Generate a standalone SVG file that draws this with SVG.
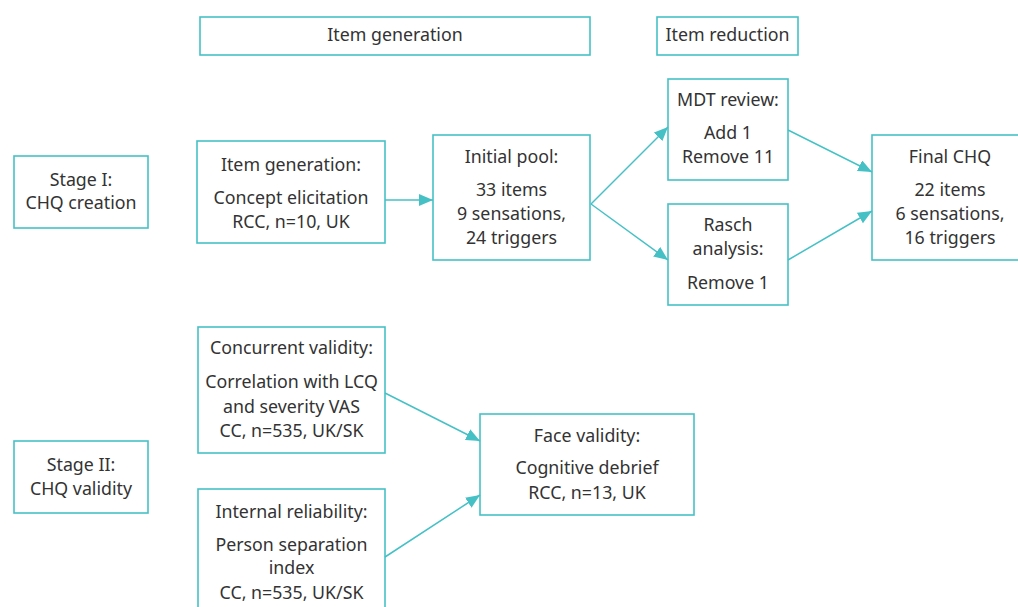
<svg xmlns="http://www.w3.org/2000/svg" width="1018" height="607" viewBox="0 0 1018 607">
<style>
.box{fill:#fff;stroke:#45c1c6;stroke-width:1.6}
text{font-family:"Noto Sans","Open Sans",sans-serif;font-size:17.8px;fill:#333;text-anchor:middle}
.con{stroke:#45c1c6;stroke-width:1.5;fill:none}
</style>
<defs>
<marker id="ah" markerWidth="14" markerHeight="12" refX="14" refY="6" orient="auto" markerUnits="userSpaceOnUse">
<path d="M0,0 L14,6 L0,12 Z" fill="#45c1c6"/>
</marker>
</defs>
<rect width="1018" height="607" fill="#fff"/>
<g id="hdr-gen"><rect class="box" x="200" y="17" width="390" height="38"/><text x="395" y="41">Item generation</text></g>
<g id="hdr-red"><rect class="box" x="657" y="17" width="141" height="38"/><text x="727.5" y="41">Item reduction</text></g>
<g id="stage1"><rect class="box" x="14" y="156" width="134" height="72"/><text x="81" y="186">Stage I:</text><text x="81" y="209">CHQ creation</text></g>
<g id="itemgen"><rect class="box" x="197" y="141" width="188" height="102"/><text x="291" y="171">Item generation:</text><text x="291" y="204">Concept elicitation</text><text x="291" y="228">RCC, n=10, UK</text></g>
<g id="pool"><rect class="box" x="433" y="135" width="157" height="125"/><text x="511.5" y="163">Initial pool:</text><text x="511.5" y="196">33 items</text><text x="511.5" y="220">9 sensations,</text><text x="511.5" y="244">24 triggers</text></g>
<g id="mdt"><rect class="box" x="668" y="79" width="120" height="101"/><text x="728" y="106">MDT review:</text><text x="728" y="139">Add 1</text><text x="728" y="163">Remove 11</text></g>
<g id="rasch"><rect class="box" x="668" y="204" width="120" height="101"/><text x="728" y="231">Rasch</text><text x="728" y="255">analysis:</text><text x="728" y="289">Remove 1</text></g>
<g id="final"><rect class="box" x="872" y="135" width="156" height="125"/><text x="950" y="163">Final CHQ</text><text x="950" y="196">22 items</text><text x="950" y="220">6 sensations,</text><text x="950" y="244">16 triggers</text></g>
<g id="stage2"><rect class="box" x="14" y="441" width="134" height="72"/><text x="81" y="471">Stage II:</text><text x="81" y="495">CHQ validity</text></g>
<g id="concurrent"><rect class="box" x="198" y="327" width="187" height="126"/><text x="291.5" y="354">Concurrent validity:</text><text x="291.5" y="388">Correlation with LCQ</text><text x="291.5" y="413">and severity VAS</text><text x="291.5" y="437">CC, n=535, UK/SK</text></g>
<g id="face"><rect class="box" x="480" y="414" width="214" height="101"/><text x="587" y="442">Face validity:</text><text x="587" y="474">Cognitive debrief</text><text x="587" y="499">RCC, n=13, UK</text></g>
<g id="internal"><rect class="box" x="198" y="489" width="187" height="130"/><text x="291.5" y="518">Internal reliability:</text><text x="291.5" y="551">Person separation</text><text x="291.5" y="574">index</text><text x="291.5" y="599">CC, n=535, UK/SK</text></g>
<g id="connectors">
<line class="con" x1="385" y1="200" x2="433" y2="200" marker-end="url(#ah)"/>
<line class="con" x1="591" y1="204" x2="668" y2="127" marker-end="url(#ah)"/>
<line class="con" x1="591" y1="204" x2="668" y2="260" marker-end="url(#ah)"/>
<line class="con" x1="788" y1="130" x2="872" y2="172" marker-end="url(#ah)"/>
<line class="con" x1="788" y1="260" x2="872" y2="211" marker-end="url(#ah)"/>
<line class="con" x1="385" y1="393" x2="480" y2="441" marker-end="url(#ah)"/>
<line class="con" x1="385" y1="557" x2="480" y2="495" marker-end="url(#ah)"/>
</g>
</svg>
